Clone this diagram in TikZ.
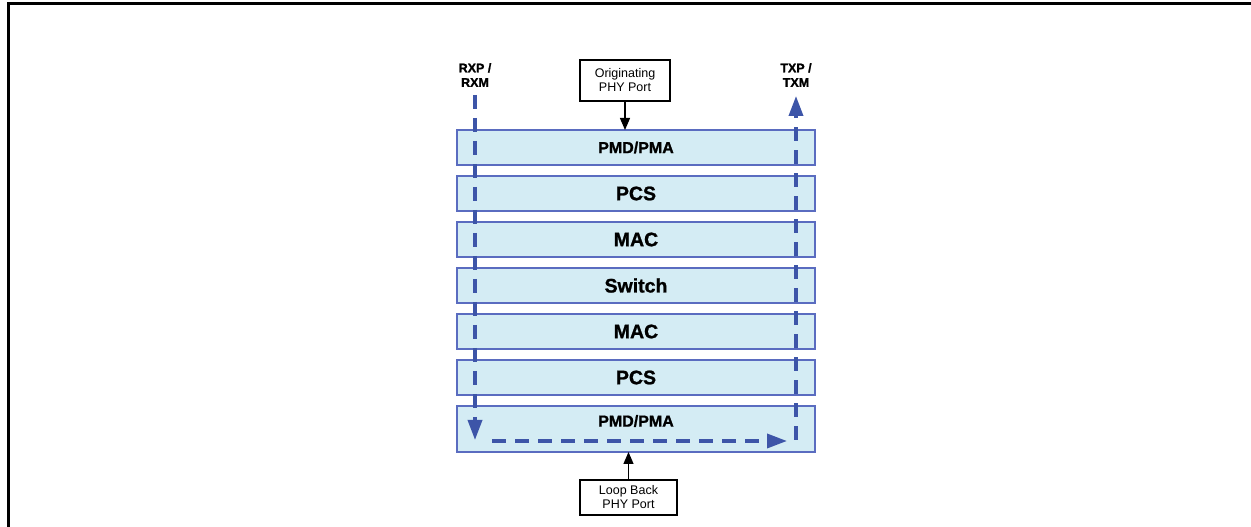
\documentclass[tikz,border=0pt]{standalone}
\usepackage{fontspec}
\setmainfont{Liberation Sans}
\newfontfamily\heavyfont{Liberation Sans Bold}[FakeBold=1.2]
\usetikzlibrary{arrows.meta}
\usetikzlibrary{positioning}
\definecolor{layerfill}{HTML}{D4ECF4}
\definecolor{layerline}{HTML}{5A6CC0}
\definecolor{pathblue}{HTML}{3D55A8}
\tikzstyle{layerbox} = [draw=layerline, fill=layerfill, line width=1.3pt, minimum width=358pt, minimum height=35pt, inner sep=0pt, outer sep=0pt, font=\heavyfont\fontsize{19.5}{22}\selectfont]
\tikzstyle{portbox} = [draw, line width=1.2pt, align=center, inner sep=0pt, outer sep=0pt, font=\fontsize{12.5}{14}\selectfont]
\tikzstyle{pinlbl} = [align=center, inner sep=0pt, font=\heavyfont\fontsize{12.5}{14.5}\selectfont]
\tikzstyle{pathline} = [pathblue, line width=3.5pt, dash pattern=on 14pt off 9pt, -{Triangle[length=20pt,width=14pt]}]

\begin{document}
\begin{tikzpicture}[x=1pt, y=1pt, >={Triangle[length=12pt,width=10pt]}]

	\useasboundingbox (0,0) rectangle (1251,527);
	\draw[line width=3pt] (8,0) -- (8,523) -- (1251,523);

	% protocol layers
	\node[layerbox, font=\heavyfont\fontsize{16}{18}\selectfont] (pmdtop) at (636,379.5) {PMD/PMA};
	\node[layerbox, below=11pt of pmdtop] (pcstop) {PCS};
	\node[layerbox, below=11pt of pcstop] (mactop) {MAC};
	\node[layerbox, below=11pt of mactop] (switch) {Switch};
	\node[layerbox, below=11pt of switch] (macbot) {MAC};
	\node[layerbox, below=11pt of macbot] (pcsbot) {PCS};
	\node[layerbox, below=11pt of pcsbot, minimum height=46pt] (pmdbot) {};
	\node[below=15pt of pmdbot.north, anchor=center, font=\heavyfont\fontsize{16}{18}\selectfont] (pmdlbl) {PMD/PMA};

	% ports
	\node[portbox, minimum width=90pt, minimum height=41pt] (orig) at (625,446.5) {Originating\\PHY Port};
	\node[portbox, minimum width=97pt, minimum height=35pt] (loopbk) at (628.5,29.5) {Loop Back\\PHY Port};

	\draw[->, line width=1.2pt] (orig.south) -- (orig.south |- pmdtop.north);
	\draw[->, line width=1.2pt] (loopbk.north) -- (loopbk.north |- pmdbot.south);

	% loop back path
	\node[pinlbl] (rxlbl) at (475,452) {RXP /\\RXM};
	\node[pinlbl] (txlbl) at (796,452) {TXP /\\TXM};
	\coordinate (rxend) at (475,87);
	\coordinate (lbstart) at (492,86);
	\coordinate (lbend) at (787,86);
	\coordinate (txstart) at (796,87);

	\draw[pathline, shorten <=8pt] (rxlbl.south) -- (rxend);
	\draw[pathline] (lbstart) -- (lbend);
	\draw[pathline, shorten >=9pt] (txstart) -- (txlbl.south);

\end{tikzpicture}
\end{document}
